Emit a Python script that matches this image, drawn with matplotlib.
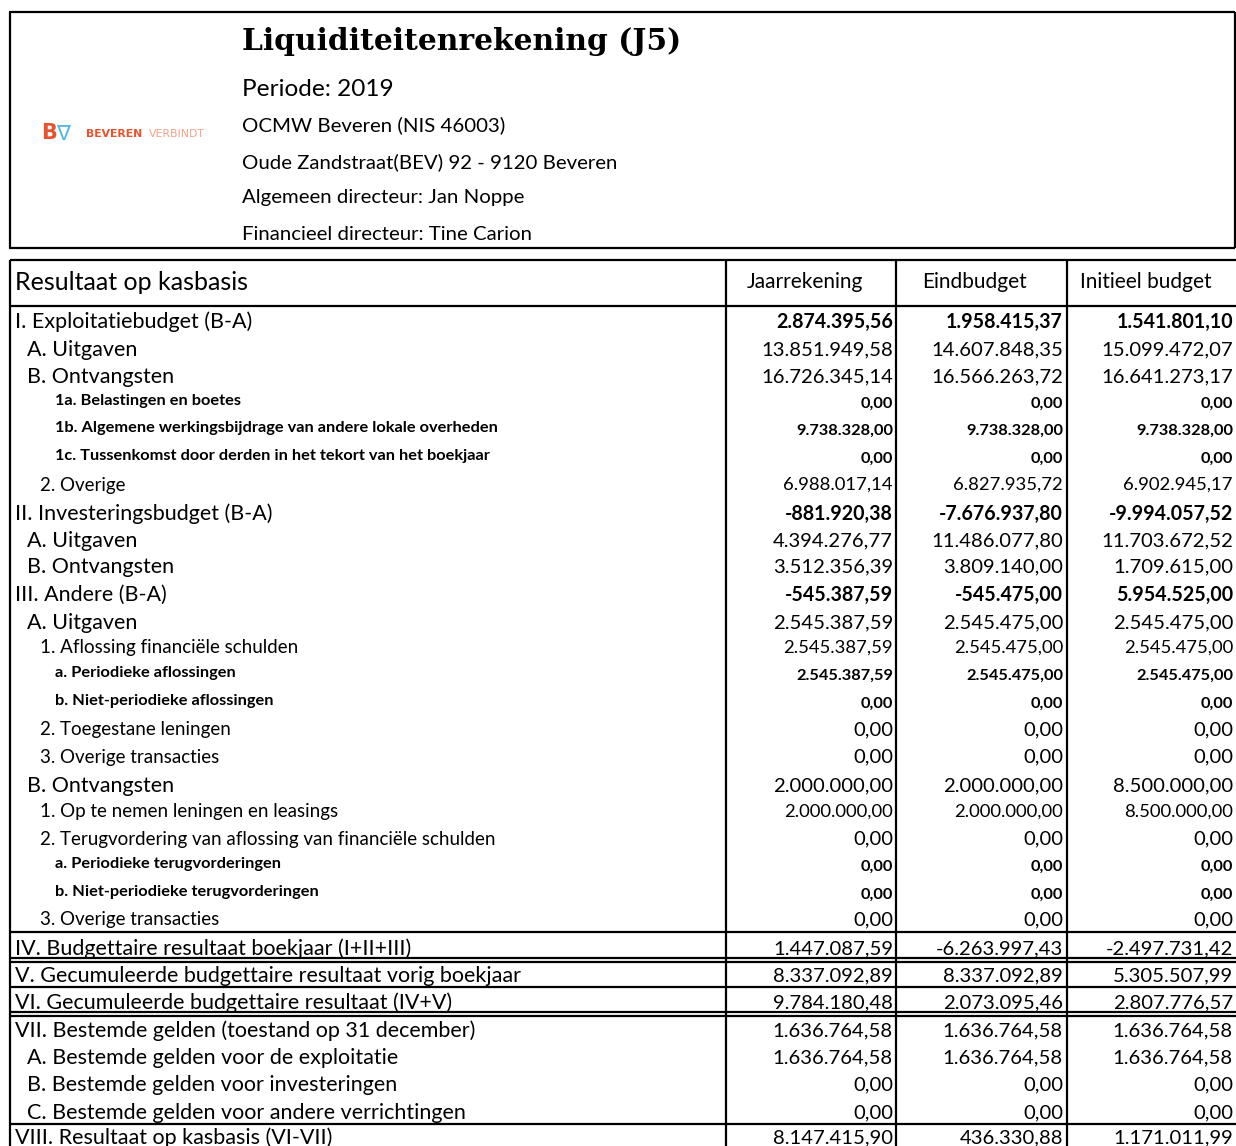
import matplotlib
matplotlib.use("Agg")
import matplotlib.pyplot as plt

plt.rcParams['font.family'] = ['Lato', 'DejaVu Sans']

# header block
title = "Liquiditeitenrekening (J5)"
periode = "Periode: 2019"
info_lines = ["OCMW Beveren (NIS 46003)",
              "Oude Zandstraat(BEV) 92 - 9120 Beveren",
              "Algemeen directeur: Jan Noppe",
              "Financieel directeur: Tine Carion"]

columns = ["Jaarrekening", "Eindbudget", "Initieel budget"]

labels = ["I. Exploitatiebudget (B-A)",
          "A. Uitgaven",
          "B. Ontvangsten",
          "1a. Belastingen en boetes",
          "1b. Algemene werkingsbijdrage van andere lokale overheden",
          "1c. Tussenkomst door derden in het tekort van het boekjaar",
          "2. Overige",
          "II. Investeringsbudget (B-A)",
          "A. Uitgaven",
          "B. Ontvangsten",
          "III. Andere (B-A)",
          "A. Uitgaven",
          "1. Aflossing financiële schulden",
          "a. Periodieke aflossingen",
          "b. Niet-periodieke aflossingen",
          "2. Toegestane leningen",
          "3. Overige transacties",
          "B. Ontvangsten",
          "1. Op te nemen leningen en leasings",
          "2. Terugvordering van aflossing van financiële schulden",
          "a. Periodieke terugvorderingen",
          "b. Niet-periodieke terugvorderingen",
          "3. Overige transacties",
          "IV. Budgettaire resultaat boekjaar (I+II+III)",
          "V. Gecumuleerde budgettaire resultaat vorig boekjaar",
          "VI. Gecumuleerde budgettaire resultaat (IV+V)",
          "VII. Bestemde gelden (toestand op 31 december)",
          "A. Bestemde gelden voor de exploitatie",
          "B. Bestemde gelden voor investeringen",
          "C. Bestemde gelden voor andere verrichtingen",
          "VIII. Resultaat op kasbasis (VI-VII)"]

jaarrekening = [2874395.56, 13851949.58, 16726345.14, 0, 9738328.00, 0, 6988017.14,
                -881920.38, 4394276.77, 3512356.39,
                -545387.59, 2545387.59, 2545387.59, 2545387.59, 0, 0, 0,
                2000000.00, 2000000.00, 0, 0, 0, 0,
                1447087.59, 8337092.89, 9784180.48,
                1636764.58, 1636764.58, 0, 0, 8147415.90]
eindbudget = [1958415.37, 14607848.35, 16566263.72, 0, 9738328.00, 0, 6827935.72,
              -7676937.80, 11486077.80, 3809140.00,
              -545475.00, 2545475.00, 2545475.00, 2545475.00, 0, 0, 0,
              2000000.00, 2000000.00, 0, 0, 0, 0,
              -6263997.43, 8337092.89, 2073095.46,
              1636764.58, 1636764.58, 0, 0, 436330.88]
initieel = [1541801.10, 15099472.07, 16641273.17, 0, 9738328.00, 0, 6902945.17,
            -9994057.52, 11703672.52, 1709615.00,
            5954525.00, 2545475.00, 2545475.00, 2545475.00, 0, 0, 0,
            8500000.00, 8500000.00, 0, 0, 0, 0,
            -2497731.42, 5305507.99, 2807776.57,
            1636764.58, 1636764.58, 0, 0, 1171011.99]

# layout: row centres, indents and text size class (L/M/S) for label and values
row_y = [322, 350, 377, 401, 428, 456, 485, 514, 541, 567, 595, 623, 648, 673, 701,
         730, 757, 786, 812, 839, 864, 892, 920, 949, 976, 1003, 1031, 1058, 1085, 1113, 1138]
indent = [15, 27, 27, 55, 55, 55, 40, 15, 27, 27, 15, 27, 40, 55, 55,
          40, 40, 27, 40, 40, 55, 55, 40, 15, 15, 15, 15, 27, 27, 27, 15]
lab_cls = "LLLSSSMLLLLLMSSMMLMMSSMLLLLLLLL"
val_cls = "LLLSSSMLLLLLMSSLLLMLSSLLLLLLLLL"
lab_size = {"L": 15.5, "M": 13.5, "S": 11.8}
val_size = {"L": 14.6, "M": 13.3, "S": 11.8}
bold_rows = [0, 7, 10]


def fmt(v):
    s = "{:,.2f}".format(v)
    return s.replace(",", "#").replace(".", ",").replace("#", ".")


fig = plt.figure(figsize=(12.36, 11.46), dpi=100)
ax = fig.add_axes([0, 0, 1, 1])
ax.set_xlim(0, 1236)
ax.set_ylim(1146, 0)
ax.axis("off")


def hline(y, x0=10, x1=1236, lw=1.6):
    ax.plot([x0, x1], [y, y], color="black", lw=lw, solid_capstyle="butt")


def vline(x, y0, y1, lw=1.6):
    ax.plot([x, x], [y0, y1], color="black", lw=lw, solid_capstyle="butt")


# header box
hline(12, 9, 1235)
hline(248, 9, 1235)
vline(10, 12, 248)
vline(1235, 12, 248)

# logo
ax.text(41, 133, "B", color="#e8532f", fontsize=15, fontweight="bold", va="center",
        family="DejaVu Sans")
ax.text(56, 134, "∇", color="#52b6e6", fontsize=15, va="center", family="DejaVu Sans")
ax.text(86, 134, "BEVEREN", color="#e8532f", fontsize=7.8, fontweight="bold", va="center",
        family="DejaVu Sans")
ax.text(149, 134, "VERBINDT", color="#f2a38c", fontsize=7.8, va="center", family="DejaVu Sans")

ax.text(242, 42, title, fontsize=21.4, fontweight="bold", family="DejaVu Serif", va="center")
ax.text(242, 89, periode, fontsize=17.6, va="center")
for i, line in enumerate(info_lines):
    ax.text(242, [125, 162, 198, 235][i], line, fontsize=14.7, va="center")

# table frame
hline(260)
hline(306)
vline(10, 260, 1146)
for x in [726, 896, 1067]:
    vline(x, 260, 1146)
for y in [932, 958, 962, 987, 1012, 1016, 1124]:
    hline(y)

ax.text(15, 282, "Resultaat op kasbasis", fontsize=18, va="center")
for x, name in zip([805, 975, 1146], columns):
    ax.text(x, 282, name, fontsize=15, ha="center", va="center")

right_edges = [893, 1063, 1233]
for i, lab in enumerate(labels):
    y = row_y[i]
    lw = "bold" if lab_cls[i] == "S" else "normal"
    ax.text(indent[i], y, lab, fontsize=lab_size[lab_cls[i]], fontweight=lw, va="center")
    vw = "bold" if (val_cls[i] == "S" or i in bold_rows) else "normal"
    vs = val_size[val_cls[i]] - (0.5 if i in bold_rows else 0)
    vy = y + (2.5 if val_cls[i] == "S" else 0)
    for xr, series in zip(right_edges, [jaarrekening, eindbudget, initieel]):
        ax.text(xr, vy, fmt(series[i]), fontsize=vs, fontweight=vw,
                ha="right", va="center")

fig.savefig("out.png", dpi=100)
